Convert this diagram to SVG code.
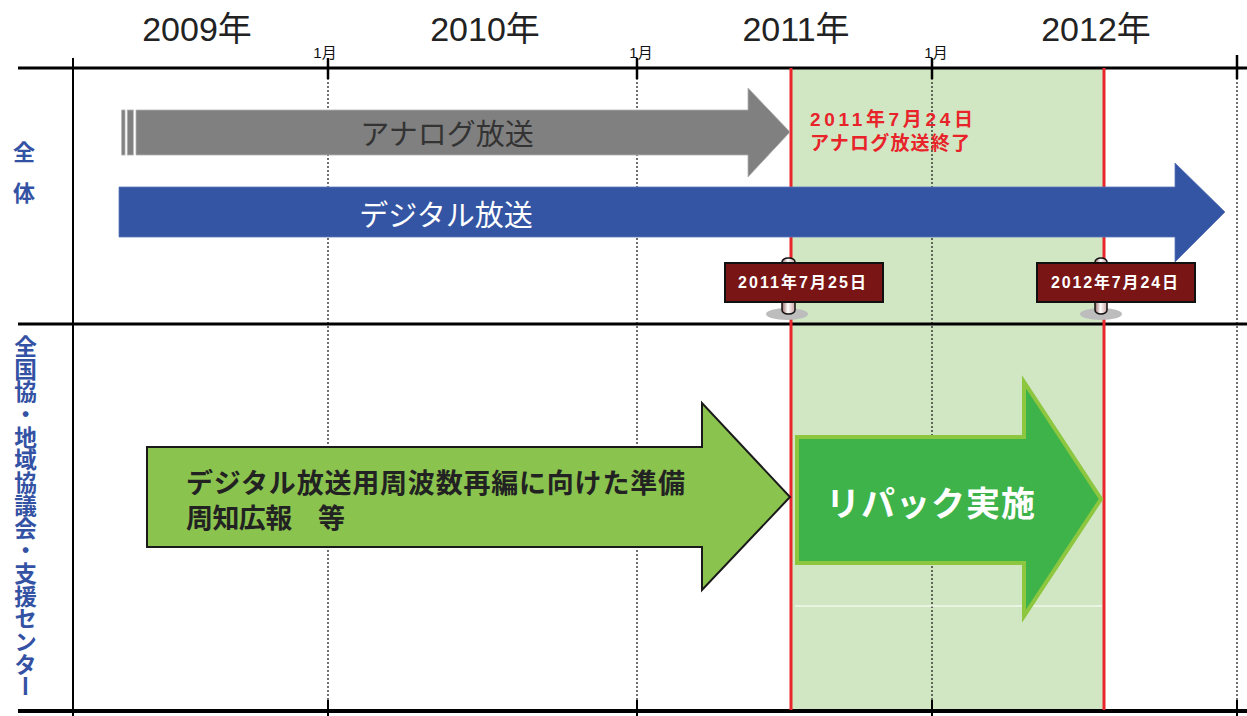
<svg xmlns="http://www.w3.org/2000/svg" width="1247" height="716" viewBox="0 0 1247 716">
<style>
.jp{font-family:"Liberation Sans","Noto Sans CJK JP",sans-serif}
.year{font-size:34px;fill:#222;text-anchor:middle}
.mon{font-size:15px;fill:#111;text-anchor:middle}
.lbl{font-size:22px;font-weight:bold;fill:#3452a4}
.dot{stroke:#111;stroke-width:1.2;stroke-dasharray:2 2;fill:none}
.solid{stroke:#000;fill:none}
.red{stroke:#e8262b;stroke-width:3;fill:none}
.sign{fill:#7a1516;stroke:#111;stroke-width:2}
.signtxt{font-size:16px;font-weight:bold;fill:#fff}
.pole{fill:url(#poleg);stroke:#111;stroke-width:1.5}
.shadow{fill:#bdbdbd}
</style>
<defs>
<linearGradient id="poleg" x1="0" y1="0" x2="1" y2="0">
<stop offset="0" stop-color="#9a6b6b"/>
<stop offset="0.45" stop-color="#ffffff"/>
<stop offset="1" stop-color="#c9a3a3"/>
</linearGradient>
</defs>
<rect width="1247" height="716" fill="#fff"/>

<g id="timeline">
<rect x="792" y="69" width="312" height="641" fill="#d1e7c4"/>
<g class="dot">
<line x1="328" y1="78" x2="328" y2="702"/>
<line x1="637" y1="78" x2="637" y2="702"/>
<line x1="932" y1="78" x2="932" y2="702"/>
<line x1="1237" y1="78" x2="1237" y2="702"/>
</g>
<g class="solid">
<line x1="18" y1="68" x2="1247" y2="68" stroke-width="3"/>
<line x1="18" y1="324" x2="1247" y2="324" stroke-width="3"/>
<line x1="18" y1="711" x2="1247" y2="711" stroke-width="4"/>
<line x1="73" y1="58" x2="73" y2="716" stroke-width="2"/>
<line x1="328" y1="58" x2="328" y2="79" stroke-width="2.5"/>
<line x1="637" y1="58" x2="637" y2="79" stroke-width="2.5"/>
<line x1="932" y1="58" x2="932" y2="79" stroke-width="2.5"/>
<line x1="1237" y1="55" x2="1237" y2="79" stroke-width="2.5"/>
<line x1="328" y1="700" x2="328" y2="716" stroke-width="2"/>
<line x1="637" y1="700" x2="637" y2="716" stroke-width="2"/>
<line x1="932" y1="700" x2="932" y2="716" stroke-width="2"/>
<line x1="1237" y1="700" x2="1237" y2="716" stroke-width="2"/>
</g>
<line class="red" x1="791" y1="68" x2="791" y2="710"/>
<line class="red" x1="1104" y1="68" x2="1104" y2="710"/>
<line x1="795" y1="606" x2="1102" y2="606" stroke="#fff" stroke-width="1"/>
</g>

<g id="header" class="jp">
<text class="year" x="197" y="41">2009年</text>
<text class="year" x="485" y="41">2010年</text>
<text class="year" x="796" y="41">2011年</text>
<text class="year" x="1096" y="41">2012年</text>
<text class="mon" x="325" y="58">1月</text>
<text class="mon" x="641" y="58">1月</text>
<text class="mon" x="936" y="58">1月</text>
</g>

<g id="row-labels" class="jp">
<text class="lbl" x="24" y="160" text-anchor="middle">全</text>
<text class="lbl" x="24" y="201" text-anchor="middle">体</text>
<text class="lbl" x="24" y="335" style="writing-mode:vertical-rl;font-size:22.7px">全国協・地域協議会・支援センター</text>
</g>

<g id="analog-arrow">
<rect x="121.7" y="110" width="3.3" height="45" fill="#808080" stroke="#b0b0b0" stroke-width="0.8"/>
<rect x="127.3" y="110" width="6" height="45" fill="#808080" stroke="#b0b0b0" stroke-width="0.8"/>
<polygon points="136,110 748,110 748,88 790,132 748,177 748,155 136,155" fill="#808080" stroke="#b0b0b0" stroke-width="0.8"/>
<text class="jp" x="447" y="145" text-anchor="middle" font-size="29" fill="#333">アナログ放送</text>
</g>

<g id="digital-arrow">
<polygon points="119,187 1175,187 1175,163 1225,212 1175,262 1175,237 119,237" fill="#3455a4" stroke="#5a76b8" stroke-width="0.8"/>
<text class="jp" x="446" y="226" text-anchor="middle" font-size="29" fill="#fff">デジタル放送</text>
</g>

<g id="analog-end-note" class="jp" font-weight="bold" fill="#e8232a" font-size="19">
<text x="810" y="126" textLength="163" lengthAdjust="spacing">2011年7月24日</text>
<text x="810" y="150" textLength="160" lengthAdjust="spacing">アナログ放送終了</text>
</g>

<g id="sign-2011">
<ellipse class="shadow" cx="787" cy="314" rx="21" ry="6"/>
<rect class="pole" x="782" y="258" width="13" height="56" rx="6" ry="4"/>
<rect class="sign" x="725" y="263" width="158" height="39"/>
<text class="jp signtxt" x="738" y="288" textLength="128" lengthAdjust="spacing">2011年7月25日</text>
</g>

<g id="sign-2012">
<ellipse class="shadow" cx="1101" cy="314" rx="21" ry="6"/>
<rect class="pole" x="1095" y="258" width="12" height="56" rx="6" ry="4"/>
<rect class="sign" x="1037" y="263" width="158" height="39"/>
<text class="jp signtxt" x="1051" y="288" textLength="127" lengthAdjust="spacing">2012年7月24日</text>
</g>

<g id="prep-arrow">
<polygon points="147,447 702,447 702,403 790,497 702,590 702,547 147,547" fill="#8bc34f" stroke="#1a1a1a" stroke-width="2"/>
<g class="jp" font-weight="bold" font-size="27" fill="#222">
<text x="186" y="493" textLength="499" lengthAdjust="spacing">デジタル放送用周波数再編に向けた準備</text>
<text x="186" y="528" textLength="159" lengthAdjust="spacing">周知広報　等</text>
</g>
</g>

<g id="repack-arrow">
<polygon points="797,437 1024,437 1024,382 1101,499 1024,616 1024,563 797,563" fill="#3db34a" stroke="#8dc63f" stroke-width="4"/>
<text class="jp" x="826" y="516" textLength="209" lengthAdjust="spacing" font-size="34" font-weight="bold" fill="#fff">リパック実施</text>
</g>

<g id="connectors"/>
</svg>
